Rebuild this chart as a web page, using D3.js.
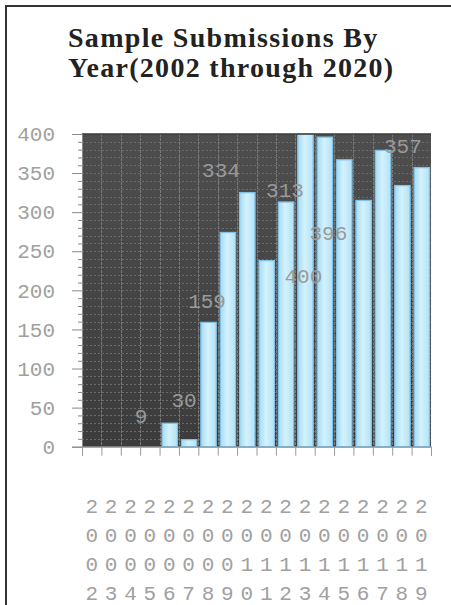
<!DOCTYPE html>
<html>
<head>
<meta charset="utf-8">
<script src="https://cdn.jsdelivr.net/npm/d3@7"></script>
<style>
  html, body { margin: 0; padding: 0; background: #fff; }
  svg { display: block; }
</style>
</head>
<body>
<svg id="chart" width="451" height="605"></svg>
<script>
// ---- data ----
const titleLines = ["Sample Submissions By", "Year(2002 through 2020)"];
const years = ["2002","2003","2004","2005","2006","2007","2008","2009","2010",
               "2011","2012","2013","2014","2015","2016","2017","2018","2019"];
const values = [0, 0, 0, 0, 30, 9, 159, 274, 325, 238, 313, 400, 396, 367, 315, 379, 334, 357];
const yTicks = [0, 50, 100, 150, 200, 250, 300, 350, 400];
// value labels as placed in the source chart (position in category units / value units)
const labelTexts = ["9", "30", "159", "334", "313", "400", "396", "357"];
const labelCat   = [3.04, 5.26, 6.45, 7.17, 10.47, 11.42, 12.71, 16.55];
const labelVal   = [30, 51, 177, 345, 320, 209, 264, 376];

// ---- layout ----
const svg = d3.select("#chart");
const L = 82, R = 431, T = 134, B = 446.7;
const mono = "'Liberation Mono', 'DejaVu Sans Mono', monospace";

const x = d3.scaleBand().domain(years).range([L, R]).padding(0);
const xc = d3.scaleLinear().domain([0, years.length]).range([L, R]);
const y = d3.scaleLinear().domain([0, 400]).range([B, T]);

const defs = svg.append("defs");
const bg = defs.append("linearGradient").attr("id", "bg").attr("x1", 0).attr("y1", 0).attr("x2", 0).attr("y2", 1);
bg.append("stop").attr("offset", "0%").attr("stop-color", "#4e4e4e");
bg.append("stop").attr("offset", "100%").attr("stop-color", "#3c3c3c");
const bar = defs.append("linearGradient").attr("id", "bar").attr("x1", 0).attr("y1", 0).attr("x2", 1).attr("y2", 0);
bar.append("stop").attr("offset", "0%").attr("stop-color", "#a6daf2");
bar.append("stop").attr("offset", "45%").attr("stop-color", "#d3f2fc");
bar.append("stop").attr("offset", "100%").attr("stop-color", "#b2e2f6");

// frame (left + top lines)
svg.append("path").attr("d", "M6,605 V6 H451").attr("fill", "none").attr("stroke", "#333").attr("stroke-width", 2);

// title
svg.append("text")
  .attr("x", 68).attr("y", 47)
  .attr("font-family", "'Liberation Serif', 'Times New Roman', serif")
  .attr("font-weight", "bold").attr("font-size", 28).attr("fill", "#222")
  .attr("letter-spacing", 1.3)
  .selectAll("tspan").data(titleLines).join("tspan")
  .attr("x", 68).attr("dy", (d, i) => i === 0 ? 0 : 29.5)
  .text(d => d);

// plot background
svg.append("rect").attr("x", L).attr("y", T).attr("width", R - L).attr("height", B - T).attr("fill", "url(#bg)");

// grid
const g = svg.append("g");
g.selectAll("line.h").data(d3.range(10, 400, 10)).join("line")
  .attr("x1", L).attr("x2", R).attr("y1", d => Math.round(y(d)) + 0.5).attr("y2", d => Math.round(y(d)) + 0.5)
  .attr("stroke", "#6a6a6a").attr("stroke-width", 1).attr("stroke-dasharray", "2,2");
g.selectAll("line.v").data(d3.range(1, years.length)).join("line")
  .attr("x1", d => Math.round(xc(d)) + 0.5).attr("x2", d => Math.round(xc(d)) + 0.5)
  .attr("y1", T).attr("y2", B)
  .attr("stroke", "#7a7a7a").attr("stroke-width", 1).attr("stroke-dasharray", "3,1");

// bars
svg.append("g").selectAll("rect").data(values.map((v, i) => ({year: years[i], v}))).join("rect")
  .filter(d => d.v > 0)
  .attr("x", d => x(d.year) + 2.5)
  .attr("width", x.bandwidth() - 4)
  .attr("y", d => y(d.v))
  .attr("height", d => B - y(d.v))
  .attr("fill", "url(#bar)")
  .attr("stroke", "#80c2e8").attr("stroke-width", 1.3);

// top border of plot
svg.append("line").attr("x1", L).attr("x2", R).attr("y1", T).attr("y2", T).attr("stroke", "#3a3a3a").attr("stroke-width", 1.5);

// y axis
const yAxis = svg.append("g").attr("transform", `translate(${L},0)`)
  .call(d3.axisLeft(y).tickValues(yTicks).tickSize(10).tickPadding(17));
yAxis.select(".domain").attr("stroke", "#888");
yAxis.selectAll(".tick line").attr("stroke", "#888");
yAxis.selectAll("text").attr("font-family", mono).attr("font-size", 21).attr("fill", "#a0a0a0");
const yMinor = svg.append("g").attr("transform", `translate(${L},0)`)
  .call(d3.axisLeft(y).tickValues(d3.range(10, 400, 10).filter(v => v % 50 !== 0)).tickSize(4).tickFormat(""));
yMinor.select(".domain").remove();
yMinor.selectAll(".tick line").attr("stroke", "#888");

// x axis baseline and ticks at category boundaries
const xAxis = svg.append("g").attr("transform", `translate(0,${B})`)
  .call(d3.axisBottom(xc).tickValues(d3.range(0, years.length + 1)).tickSize(9).tickFormat(""));
xAxis.select(".domain").attr("stroke", "#888");
xAxis.selectAll(".tick line").attr("stroke", "#999");

// x labels: characters stacked vertically
const xl = svg.append("g").selectAll("text").data(years).join("text")
  .attr("font-family", mono).attr("font-size", 21).attr("fill", "#a0a0a0")
  .attr("text-anchor", "middle");
xl.selectAll("tspan").data(d => d.split("").map(c => ({c, yr: d}))).join("tspan")
  .attr("x", d => x(d.yr) + x.bandwidth() / 2)
  .attr("y", (d, i) => 513 + i * 29)
  .text(d => d.c);

// value labels
svg.append("g").selectAll("text").data(labelTexts).join("text")
  .attr("x", (d, i) => xc(labelCat[i]))
  .attr("y", (d, i) => y(labelVal[i]))
  .attr("text-anchor", "middle")
  .attr("font-family", mono).attr("font-size", 21).attr("fill", "#999")
  .text(d => d);
</script>
</body>
</html>
